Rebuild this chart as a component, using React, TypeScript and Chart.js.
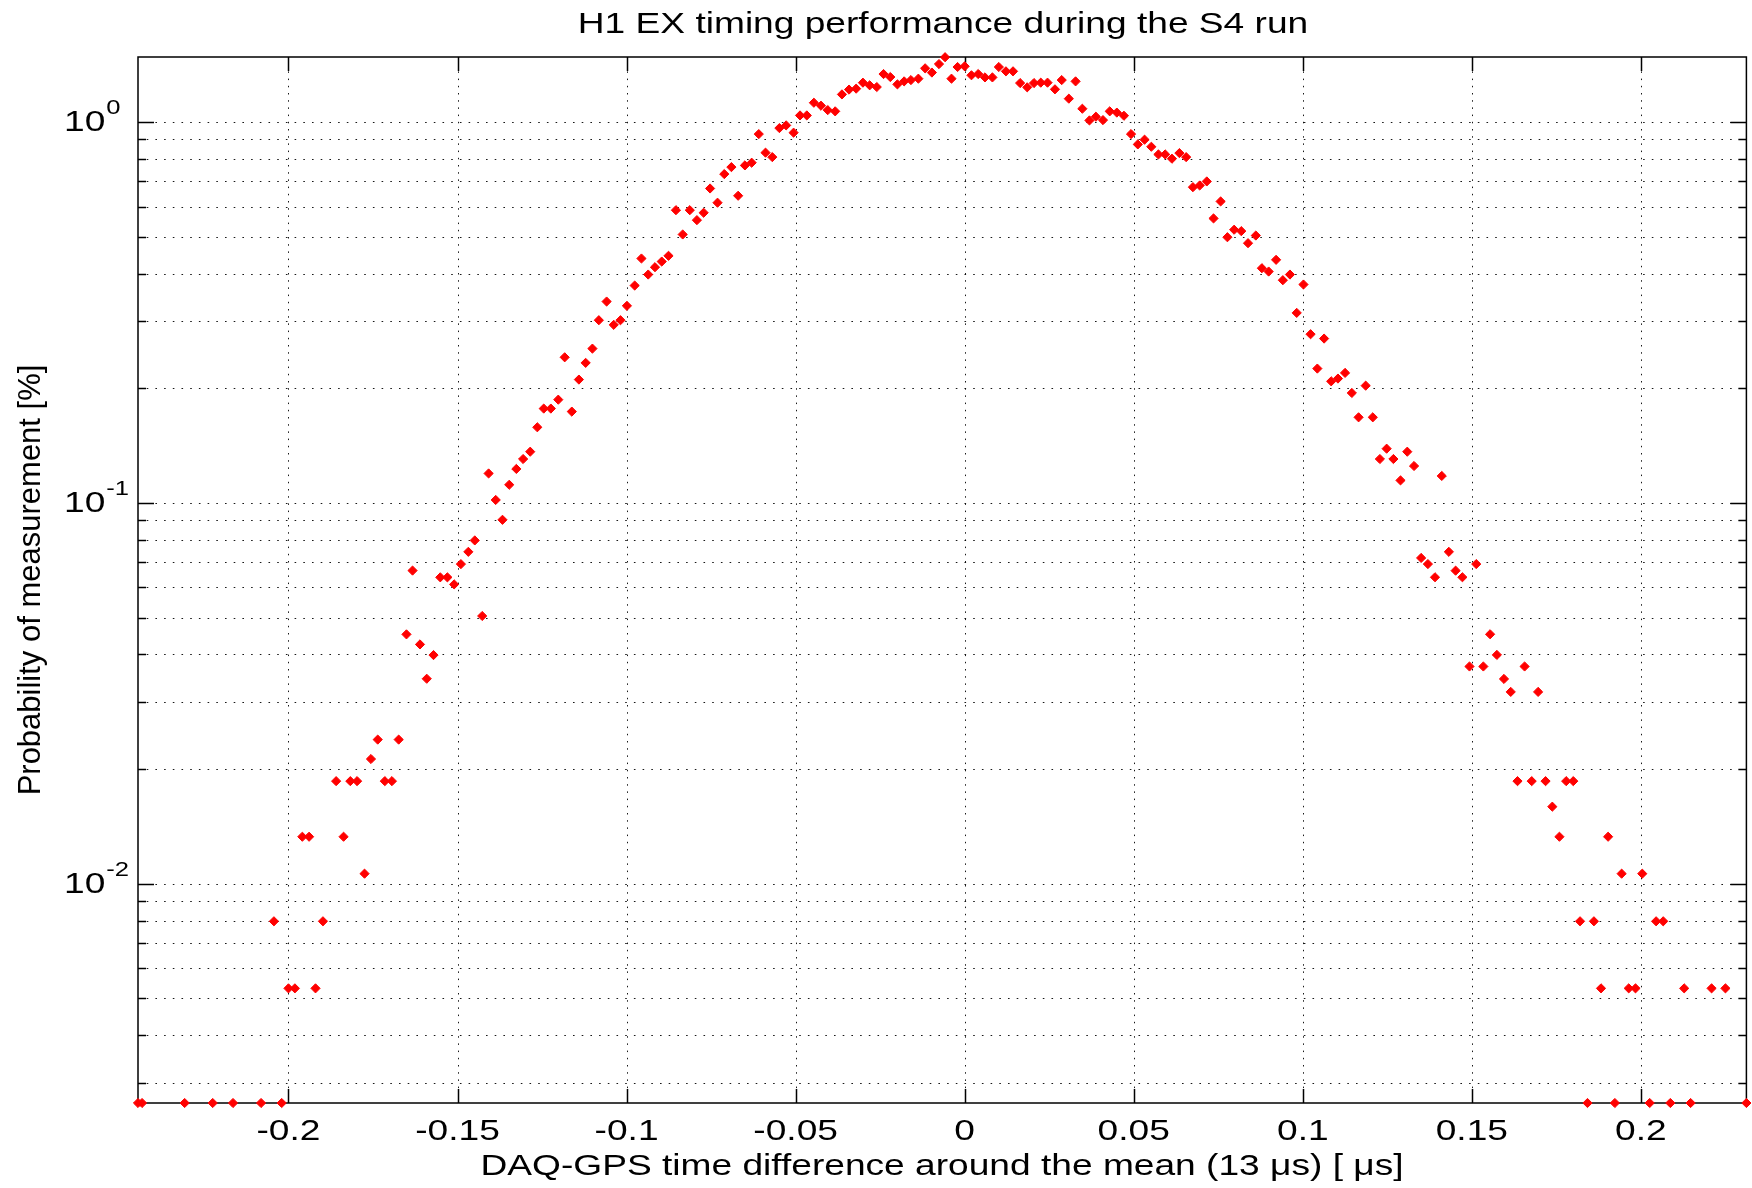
import React, { useEffect, useRef } from 'react';
import { Chart, registerables } from 'chart.js';

Chart.register(...registerables);

// ---------- data ----------
const timeDiff = [
  -0.2445, -0.2433, -0.2307, -0.2224, -0.2164, -0.2081, -0.2043, -0.2020, -0.2000, -0.1981,
  -0.1959, -0.1939, -0.1920, -0.1898, -0.1859, -0.1837, -0.1817, -0.1797, -0.1775, -0.1756,
  -0.1736, -0.1715, -0.1694, -0.1674, -0.1651, -0.1633, -0.1611, -0.1591, -0.1571, -0.1551,
  -0.1530, -0.1510, -0.1490, -0.1468, -0.1449, -0.1427, -0.1408, -0.1387, -0.1367, -0.1347,
  -0.1326, -0.1306, -0.1285, -0.1264, -0.1245, -0.1224, -0.1202, -0.1183, -0.1162, -0.1141,
  -0.1121, -0.1101, -0.1082, -0.1059, -0.1038, -0.1018, -0.0999, -0.0976, -0.0956, -0.0936,
  -0.0916, -0.0896, -0.0876, -0.0854, -0.0834, -0.0813, -0.0792, -0.0772, -0.0753, -0.0731,
  -0.0711, -0.0690, -0.0670, -0.0650, -0.0630, -0.0609, -0.0589, -0.0569, -0.0548, -0.0528,
  -0.0506, -0.0487, -0.0467, -0.0446, -0.0425, -0.0405, -0.0383, -0.0363, -0.0342, -0.0321,
  -0.0301, -0.0281, -0.0260, -0.0240, -0.0220, -0.0199, -0.0179, -0.0159, -0.0137, -0.0117,
  -0.0097, -0.0076, -0.0058, -0.0039, -0.0021, 0.0000, 0.0020, 0.0040, 0.0060, 0.0082,
  0.0101, 0.0122, 0.0143, 0.0164, 0.0185, 0.0205, 0.0225, 0.0245, 0.0267, 0.0287,
  0.0308, 0.0328, 0.0348, 0.0369, 0.0388, 0.0409, 0.0429, 0.0450, 0.0471, 0.0492,
  0.0512, 0.0532, 0.0552, 0.0573, 0.0593, 0.0613, 0.0635, 0.0655, 0.0675, 0.0695,
  0.0716, 0.0736, 0.0757, 0.0777, 0.0797, 0.0818, 0.0838, 0.0861, 0.0879, 0.0899,
  0.0921, 0.0941, 0.0962, 0.0982, 0.1002, 0.1023, 0.1043, 0.1063, 0.1084, 0.1104,
  0.1125, 0.1145, 0.1165, 0.1186, 0.1207, 0.1228, 0.1248, 0.1268, 0.1289, 0.1309,
  0.1329, 0.1350, 0.1370, 0.1391, 0.1411, 0.1432, 0.1452, 0.1472, 0.1493, 0.1513,
  0.1534, 0.1554, 0.1574, 0.1595, 0.1615, 0.1635, 0.1656, 0.1677, 0.1696, 0.1718,
  0.1738, 0.1759, 0.1779, 0.1800, 0.1820, 0.1842, 0.1861, 0.1882, 0.1903, 0.1923,
  0.1943, 0.1964, 0.1984, 0.2004, 0.2026, 0.2045, 0.2066, 0.2087, 0.2128, 0.2147,
  0.2209, 0.2250, 0.2312,
];

const probability = [
  0.002657, 0.002657, 0.002657, 0.002657, 0.002657, 0.002657, 0.007971, 0.002657, 0.005314, 0.005314,
  0.01329, 0.01329, 0.005314, 0.007971, 0.0186, 0.01329, 0.0186, 0.0186, 0.01063, 0.02126,
  0.02391, 0.0186, 0.0186, 0.02391, 0.04517, 0.06643, 0.04251, 0.03454, 0.03986, 0.06377,
  0.06377, 0.06111, 0.06908, 0.0744, 0.07971, 0.05048, 0.1195, 0.1018, 0.0903, 0.1116,
  0.1228, 0.1304, 0.1363, 0.158, 0.1769, 0.1769, 0.1867, 0.2412, 0.1737, 0.2108,
  0.2332, 0.2542, 0.3018, 0.3379, 0.2935, 0.3018, 0.3292, 0.3722, 0.4383, 0.3978,
  0.4158, 0.4303, 0.4455, 0.587, 0.5068, 0.587, 0.5527, 0.5779, 0.6693, 0.6141,
  0.7302, 0.7616, 0.6405, 0.7695, 0.7821, 0.9299, 0.8311, 0.8091, 0.9643, 0.9802,
  0.9379, 1.041, 1.041, 1.124, 1.104, 1.075, 1.067, 1.182, 1.217, 1.224,
  1.269, 1.249, 1.236, 1.337, 1.313, 1.256, 1.279, 1.289, 1.3, 1.384,
  1.349, 1.42, 1.48, 1.3, 1.395, 1.401, 1.327, 1.337, 1.31, 1.31,
  1.395, 1.359, 1.359, 1.266, 1.234, 1.266, 1.269, 1.269, 1.219, 1.289,
  1.152, 1.279, 1.084, 1.01, 1.033, 1.012, 1.067, 1.059, 1.039, 0.9299,
  0.8737, 0.899, 0.8614, 0.8223, 0.8223, 0.8013, 0.829, 0.8091, 0.6746, 0.6816,
  0.6984, 0.5585, 0.6189, 0.4985, 0.5216, 0.5172, 0.4808, 0.5036, 0.4133, 0.4051,
  0.4348, 0.3844, 0.3978, 0.3155, 0.3745, 0.2773, 0.2253, 0.2701, 0.2086, 0.2121,
  0.2195, 0.1944, 0.1678, 0.2032, 0.1678, 0.1304, 0.1388, 0.1304, 0.1146, 0.1363,
  0.125, 0.0717, 0.0691, 0.0638, 0.1177, 0.0744, 0.0664, 0.0638, 0.0372, 0.0691,
  0.0372, 0.0452, 0.0399, 0.0345, 0.0319, 0.0186, 0.0372, 0.0186, 0.0319, 0.0186,
  0.01594, 0.01329, 0.0186, 0.0186, 0.007971, 0.002657, 0.007971, 0.005314, 0.01329, 0.002657,
  0.01063, 0.005314, 0.005314, 0.01063, 0.002657, 0.007971, 0.007971, 0.002657, 0.005314, 0.002657,
  0.005314, 0.005314, 0.002657,
];

const xTickValues = [-0.2, -0.15, -0.1, -0.05, 0, 0.05, 0.1, 0.15, 0.2];
const xTickLabels = ['-0.2', '-0.15', '-0.1', '-0.05', '0', '0.05', '0.1', '0.15', '0.2'];
const yMajorTicks = [0.01, 0.1, 1];
const yMajorExponents = ['-2', '-1', '0'];
const yMinorTicks = [
  0.003, 0.004, 0.005, 0.006, 0.007, 0.008, 0.009,
  0.02, 0.03, 0.04, 0.05, 0.06, 0.07, 0.08, 0.09,
  0.2, 0.3, 0.4, 0.5, 0.6, 0.7, 0.8, 0.9,
];
const xMin = -0.2445;
const xMax = 0.2312;
const yMin = 0.002657;
const yMax = 1.482;

const titleText = 'H1 EX timing performance during the S4 run';
const xLabelText = 'DAQ-GPS time difference around the mean (13 \u03bcs) [ \u03bcs]';
const yLabelText = 'Probability of measurement [%]';

// ---------- drawing helpers ----------
const FONT = '"Liberation Sans", Arial, Helvetica, sans-serif';
const HS = 1.28; // horizontal stretch of the reference's horizontal text

function drawText(
  ctx: CanvasRenderingContext2D,
  text: string,
  x: number,
  y: number,
  size: number,
  align: 'left' | 'center' | 'right',
  sx: number = HS,
) {
  ctx.save();
  ctx.font = `${size}px ${FONT}`;
  ctx.textBaseline = 'alphabetic';
  ctx.textAlign = 'left';
  const w = ctx.measureText(text).width * sx;
  let x0 = x;
  if (align === 'center') x0 = x - w / 2;
  else if (align === 'right') x0 = x - w;
  ctx.translate(x0, y);
  ctx.scale(sx, 1);
  ctx.fillStyle = '#000';
  ctx.fillText(text, 0, 0);
  ctx.restore();
  return w;
}

const matlabAxes = {
  id: 'matlabAxes',
  beforeDatasetsDraw(chart: any) {
    const { ctx, chartArea: a, scales } = chart;
    const xs = scales.x;
    const ys = scales.y;
    ctx.save();

    // dotted grid
    ctx.strokeStyle = 'rgba(0,0,0,0.9)';
    ctx.lineWidth = 1;
    ctx.setLineDash([1.5, 5.7]);
    for (const v of xTickValues) {
      const px = Math.round(xs.getPixelForValue(v)) + 0.5;
      ctx.beginPath();
      ctx.moveTo(px, a.top);
      ctx.lineTo(px, a.bottom);
      ctx.stroke();
    }
    ctx.setLineDash([1.6, 7.1]);
    for (const v of [...yMajorTicks, ...yMinorTicks]) {
      const py = Math.round(ys.getPixelForValue(v)) + 0.5;
      ctx.beginPath();
      ctx.moveTo(a.left, py);
      ctx.lineTo(a.right, py);
      ctx.stroke();
    }
    ctx.setLineDash([]);

    // axes box
    ctx.strokeStyle = '#000';
    ctx.lineWidth = 1.5;
    ctx.strokeRect(a.left, a.top, a.right - a.left, a.bottom - a.top);

    // inward ticks
    ctx.lineWidth = 1.5;
    for (const v of xTickValues) {
      const px = Math.round(xs.getPixelForValue(v)) + 0.5;
      ctx.beginPath();
      ctx.moveTo(px, a.bottom);
      ctx.lineTo(px, a.bottom - 14);
      ctx.moveTo(px, a.top);
      ctx.lineTo(px, a.top + 14);
      ctx.stroke();
    }
    const yTick = (v: number, len: number) => {
      const py = Math.round(ys.getPixelForValue(v)) + 0.5;
      ctx.beginPath();
      ctx.moveTo(a.left, py);
      ctx.lineTo(a.left + len, py);
      ctx.moveTo(a.right, py);
      ctx.lineTo(a.right - len, py);
      ctx.stroke();
    };
    yMajorTicks.forEach((v) => yTick(v, 16));
    yMinorTicks.forEach((v) => yTick(v, 8));

    // x tick labels
    xTickValues.forEach((v, i) => {
      drawText(ctx, xTickLabels[i], xs.getPixelForValue(v), 1140, 29, 'center');
    });

    // y tick labels: 10^k
    yMajorTicks.forEach((v, i) => {
      const py = ys.getPixelForValue(v);
      const w = drawText(ctx, '10', 64, py + 9, 29, 'left');
      drawText(ctx, yMajorExponents[i], 64 + w + 1, py - 8, 20, 'left');
    });

    // title & axis labels
    drawText(ctx, titleText, 943, 33, 29, 'center');
    drawText(ctx, xLabelText, 942, 1175, 29, 'center');

    ctx.save();
    ctx.translate(40, 580);
    ctx.rotate(-Math.PI / 2);
    ctx.font = `31px ${FONT}`;
    ctx.textAlign = 'center';
    ctx.textBaseline = 'alphabetic';
    ctx.fillStyle = '#000';
    ctx.fillText(yLabelText, 0, 0);
    ctx.restore();

    ctx.restore();
  },
};

export default function App() {
  const canvasRef = useRef<HTMLCanvasElement | null>(null);

  useEffect(() => {
    const canvas = canvasRef.current;
    if (!canvas) return;
    const points = timeDiff.map((x, i) => ({ x, y: probability[i] }));
    const chart = new Chart(canvas, {
      type: 'scatter',
      data: {
        datasets: [
          {
            data: points,
            pointStyle: 'rectRot',
            pointRadius: 4.6,
            pointBorderWidth: 1,
            pointBackgroundColor: '#ff0000',
            pointBorderColor: '#ff0000',
            showLine: false,
            clip: false as any,
          },
        ],
      },
      options: {
        responsive: false,
        animation: false,
        devicePixelRatio: 1,
        layout: { padding: { left: 138, right: 1, top: 57, bottom: 85 } },
        plugins: {
          legend: { display: false },
          title: { display: false },
          tooltip: { enabled: false },
        },
        scales: {
          x: { type: 'linear', min: xMin, max: xMax, display: false },
          y: { type: 'logarithmic', min: yMin, max: yMax, display: false },
        },
      },
      plugins: [matlabAxes],
    });
    return () => chart.destroy();
  }, []);

  return (
    <div style={{ position: 'absolute', left: 0, top: 0, width: 1752, height: 1188, background: '#fff' }}>
      <canvas ref={canvasRef} width={1752} height={1188} style={{ width: 1752, height: 1188, display: 'block' }} />
    </div>
  );
}
